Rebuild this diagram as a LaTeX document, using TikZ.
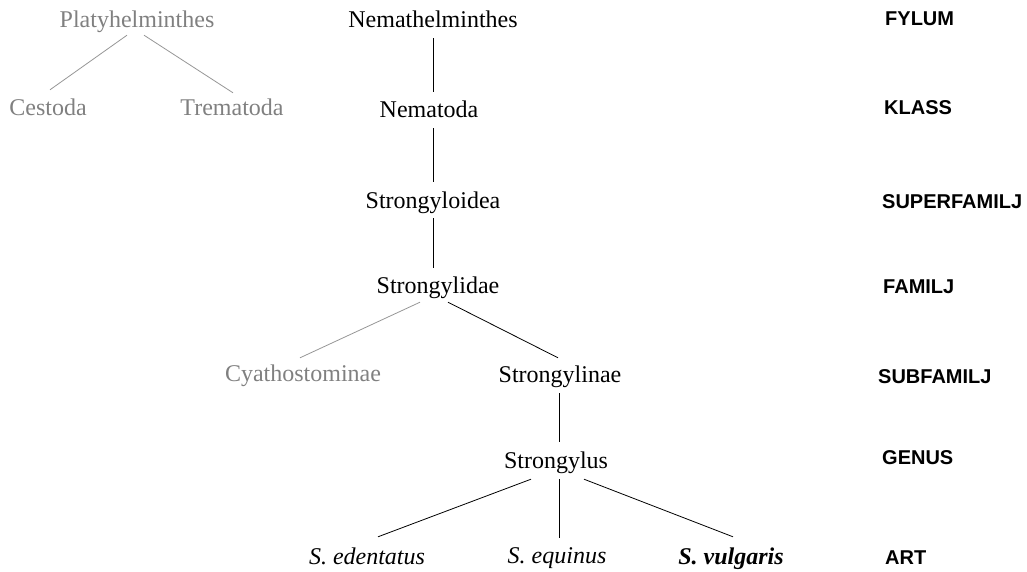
\documentclass[tikz,border=0pt]{standalone}
\usepackage{fontspec}
\setmainfont{Liberation Serif}
\newfontfamily\labelfont{Liberation Sans}
\usetikzlibrary{calc}
\definecolor{taxgray}{RGB}{128,128,128}
\definecolor{linegray}{RGB}{150,150,150}
\begin{document}
\begin{tikzpicture}[x=1pt,y=-1pt,
  tax/.style={font=\fontsize{24}{28}\selectfont, inner sep=0pt, text height=16pt, text depth=0pt, anchor=center},
  grey/.style={tax, text=taxgray},
  rank/.style={font=\labelfont\bfseries\fontsize{20}{24}\selectfont, anchor=west, inner sep=0pt, text height=14.3pt, text depth=0pt},
  link/.style={draw=black, line width=0.8pt},
  glink/.style={draw=linegray, line width=0.8pt}]
\useasboundingbox (0,0) rectangle (1027,572);
% grey branch
\node[grey] (pl) at (137,20) {Platyhelminthes};
\node[grey] (ce) at (48,108) {Cestoda};
\node[grey] (tr) at (232,108) {Trematoda};
\node[grey] (cy) at (303,373) {Cyathostominae};
% main tree
\node[tax] (nh) at (433,20) {Nemathelminthes};
\node[tax] (nt) at (429,110) {Nematoda};
\node[tax] (so) at (433,200) {Strongyloidea};
\node[tax] (sd) at (438,285) {Strongylidae};
\node[tax] (sl) at (560,374) {Strongylinae};
\node[tax] (sg) at (556,460) {Strongylus};
\node[tax] (se) at (367,556) {\itshape S. edentatus};
\node[tax] (sq) at (557,555) {\itshape S. equinus};
\node[tax] (sv) at (731,556) {\bfseries\itshape S. vulgaris};
% rank labels
\node[rank] (r1) at (885,18) {FYLUM};
\node[rank] (r2) at (884,107) {KLASS};
\node[rank] (r3) at (882,201) {SUPERFAMILJ};
\node[rank] (r4) at (883,286) {FAMILJ};
\node[rank] (r5) at (878,376) {SUBFAMILJ};
\node[rank] (r6) at (882,457) {GENUS};
\node[rank] (r7) at (885,557) {ART};
% connectors
\draw[glink] ($(pl.south)+(-10,7)$) -- ($(ce.north)+(2,-10)$);
\draw[glink] ($(pl.south)+(7,7)$) -- ($(tr.north)+(1,-7)$);
\draw[link] ($(nh.south)+(0,10)$) -- ($(nt.north)+(4,-10)$);
\draw[link] ($(nt.south)+(4,10)$) -- ($(so.north)+(0,-10)$);
\draw[link] ($(so.south)+(0,10)$) -- ($(sd.north)+(-5,-9)$);
\draw[glink] ($(sd.south)+(-18,9)$) -- ($(cy.north)+(-3,-7)$);
\draw[link] ($(sd.south)+(10,9)$) -- ($(sl.north)+(-2,-8)$);
\draw[link] ($(sl.south)+(-1,11)$) -- ($(sg.north)+(3,-10)$);
\draw[link] ($(sg.south)+(-25,11)$) -- ($(se.north)+(11,-11)$);
\draw[link] ($(sg.south)+(3,11)$) -- ($(sq.north)+(2,-9)$);
\draw[link] ($(sg.south)+(28,11)$) -- ($(sv.north)+(2,-11)$);
\end{tikzpicture}
\end{document}
